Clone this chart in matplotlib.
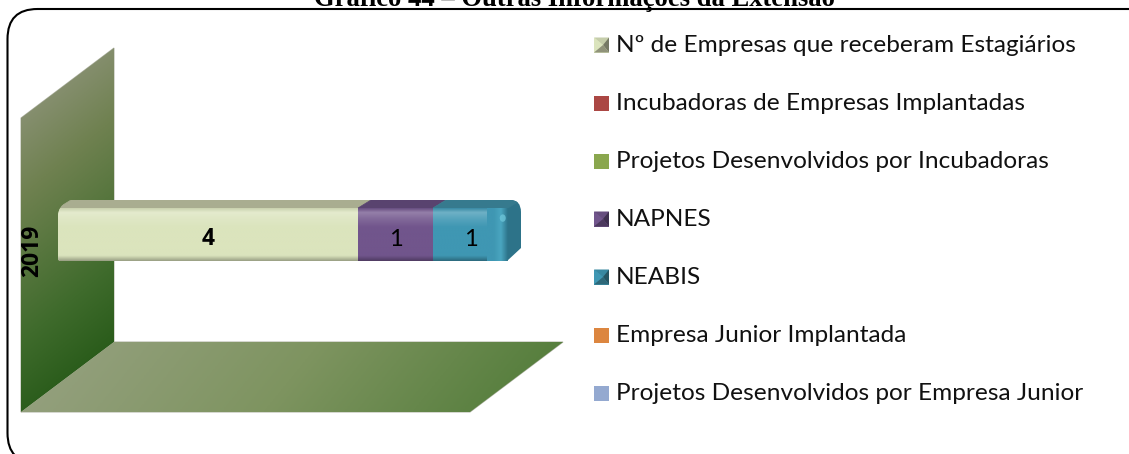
import numpy as np
import matplotlib
matplotlib.use('Agg')
import matplotlib.pyplot as plt
from matplotlib.colors import LinearSegmentedColormap, to_rgb
from matplotlib.patches import FancyBboxPatch, Polygon, Rectangle, PathPatch, Ellipse
from matplotlib.path import Path

W, H = 1129, 454

# Data
categories = ['2019']
legend_labels = ['Nº de Empresas que receberam Estagiários', 'Incubadoras de Empresas Implantadas',
                 'Projetos Desenvolvidos por Incubadoras', 'NAPNES', 'NEABIS',
                 'Empresa Junior Implantada', 'Projetos Desenvolvidos por Empresa Junior']
values = [4, 0, 0, 1, 1, 0, 0]
colors = ['#dbe4bd', '#ab4744', '#8aa74e', '#71558c', '#3f97b3', '#dc8640', '#94a9d0']
tops = ['#a9ad90', '#8a3a38', '#6f8a3e', '#59436f', '#367a8e', '#b06a30', '#7a8cb0']
title = 'Gráfico 44 – Outras Informações da Extensão'

plt.rcParams['font.family'] = ['Lato', 'DejaVu Sans']
fig = plt.figure(figsize=(W/100, H/100), dpi=100)

# pixel axes for the decoration
bg = fig.add_axes([0, 0, 1, 1])
bg.set_xlim(0, W)
bg.set_ylim(H, 0)
bg.axis('off')


def gradient(a, extent, stops, angle, clip, z=None):
    # linear colour ramp, clipped to a patch
    x = np.linspace(0, 1, 200)
    xx, yy = np.meshgrid(x, x)
    t = xx*np.cos(angle) + yy*np.sin(angle)
    t = (t - t.min())/(t.max() - t.min())
    cmap = LinearSegmentedColormap.from_list('g', stops)
    im = a.imshow(t, extent=extent, origin='upper', cmap=cmap, aspect='auto',
                  zorder=clip.get_zorder() if z is None else z, interpolation='bilinear')
    im.set_clip_path(clip)
    return im


def shade(c, f):
    r = np.array(to_rgb(c))
    if f > 1:
        return tuple(r + (1 - r)*(f - 1))
    return tuple(r*f)


# frame, goes past the right and bottom edge
bg.add_patch(FancyBboxPatch((37.5, 39), W + 60, H - 60, boxstyle='round,pad=30,rounding_size=30',
                            fc='white', ec='black', lw=1.5, zorder=1))
bg.text(575, 5.5, title, family='Liberation Serif', weight='bold', fontsize=19.2, ha='center', va='baseline', zorder=5)

# wall and floor
wall = Polygon([(21, 118), (114, 48), (114, 342), (21, 412)], fc='none', ec='#b5b8aa', lw=0.8, zorder=2)
floor = Polygon([(21, 412), (114, 342), (563, 342), (470, 412)], fc='none', ec='#b5b8aa', lw=0.8, zorder=2)
bg.add_patch(wall)
bg.add_patch(floor)
gradient(bg, (21, 114, 412, 48), ['#9a9b8a', '#6f8150', '#3f6b2c', '#184f0c'], np.radians(78), wall)
gradient(bg, (21, 563, 412, 342), ['#98a283', '#7e9460', '#4e7a36'], np.radians(6), floor)

# outline of the whole bar (top, front and side faces)
outline = PathPatch(Path([(58, 216), (58, 208), (66, 201), (68, 200), (510, 200), (521, 200), (521, 212),
                          (521, 248), (507, 261), (500, 261), (60, 261), (58, 261), (58, 258), (58, 216)],
                         [Path.MOVETO, Path.CURVE3, Path.CURVE3, Path.LINETO, Path.LINETO, Path.CURVE3, Path.CURVE3,
                          Path.LINETO, Path.LINETO, Path.LINETO, Path.LINETO, Path.CURVE3, Path.CURVE3,
                          Path.CLOSEPOLY]),
                    fc='none', ec='none', transform=bg.transData, zorder=2.5)
bg.add_patch(outline)
bg.set_xlim(0, W)
bg.set_ylim(H, 0)

# bar axes: one unit = 75 px, bar front 208-261 px, top face above it
dx = 13/75
dy = 8/53
ax = fig.add_axes([58/W, 1 - 261/H, 6.5*75/W, 61/H])
ax.patch.set_alpha(0)
ax.axis('off')
total = sum(values)

# right end first, the fronts go over it
side = Polygon([(total - 0.2, 0.5 + dy), (total + 0.25, 0.5 + dy), (total + 0.25, -0.5), (total - 0.2, -0.5)],
               fc='#2d7389', ec='none', zorder=2)
ax.add_patch(side)
side.set_clip_path(outline)

left = 0
for i in range(len(values)):
    if values[i] == 0:
        continue
    c = colors[i]
    right = left + values[i]
    top = Polygon([(left, 0.5), (left + dx, 0.5 + dy), (right + dx, 0.5 + dy), (right, 0.5)],
                  fc=tops[i], ec=tops[i], lw=0.5, zorder=3)
    ax.add_patch(top)
    top.set_clip_path(outline)
    bar = ax.barh(0, values[i], left=left, height=1, color=c, zorder=3)[0]
    bar.set_clip_path(outline)
    # lighter band near the top, dark rim at the bottom
    ramp = [(0, shade(c, 0.92)), (0.08, shade(c, 1.25)), (0.2, shade(c, 1.12)), (0.36, c), (0.9, c), (1, shade(c, 0.7))]
    im = gradient(ax, (left, right, -0.5, 0.5), ramp, np.pi/2, bar, z=3.5)
    im.set_clip_path(outline)
    ax.text(left + values[i]/2, -0.09, str(values[i]), ha='center', va='center', fontsize=16.5 if i == 0 else 17,
            family=['Open Sans'] if i == 0 else ['Lato'], fontweight='bold' if i == 0 else 'normal', zorder=6)
    left = right

# rounded front edge of the last segment
edge = Rectangle((total - 0.28, -0.5), 0.28, 1.0, fc='none', ec='none', zorder=3.6)
ax.add_patch(edge)
im = gradient(ax, (total - 0.28, total, -0.5, 0.5), [colors[4], '#3f97b3', '#4aa6c0', '#2d7389'], 0, edge, z=3.6)
im.set_clip_path(outline)
ax.add_patch(Ellipse((total - 0.07, 0.31), 0.08, 0.14, fc='#6cc4d8', ec='none', alpha=0.8, zorder=4))

ax.text(-26/75, -0.3, categories[0], rotation=90, ha='center', va='center', fontsize=16.5,
        family=['Open Sans'], fontweight='bold', zorder=6, clip_on=False)
ax.set_xlim(0, 6.5)
ax.set_ylim(-0.5, 0.5 + dy)

# legend
for i in range(len(legend_labels)):
    y = 45 + 58*i
    bg.add_patch(Rectangle((594, y - 7.5), 15, 15, fc=colors[i], ec='none', zorder=3))
    if values[i] > 0:
        # bevelled swatch for the series that have a value
        x0, x1, y0, y1 = 594, 609, y - 7.5, y + 7.5
        mx, my = 603, y
        bg.add_patch(Polygon([(x0, y0), (x1, y0), (mx, my)], fc=shade(colors[i], 0.9), ec='none', zorder=4))
        bg.add_patch(Polygon([(x0, y0), (x0, y1), (mx, my)], fc=colors[i], ec='none', zorder=4))
        bg.add_patch(Polygon([(x1, y0), (x1, y1), (mx, my)], fc=shade(tops[i], 0.7), ec='none', zorder=4))
        bg.add_patch(Polygon([(x0, y1), (x1, y1), (mx, my)], fc=shade(tops[i], 0.85), ec='none', zorder=4))
    bg.text(616, y + 0.5, legend_labels[i], fontsize=17.6, ha='left', va='center', color='#111111', zorder=5)

fig.savefig('out.png', dpi=100)
